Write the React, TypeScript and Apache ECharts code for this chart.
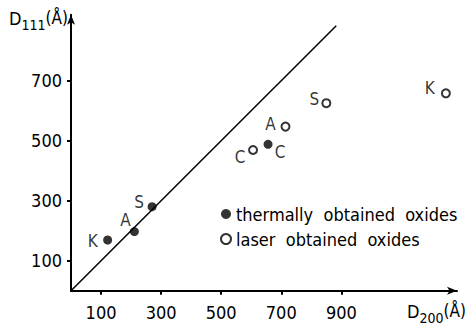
import React, { useEffect, useRef } from "react";
import * as echarts from "echarts";

const xTicks = [100, 300, 500, 700, 900];
const yTicks = [100, 300, 500, 700];
const thermalNames = ["K", "A", "S", "C"];
const thermalX = [122, 211, 270, 656];
const thermalY = [169, 197, 280, 488];
const laserNames = ["C", "A", "S", "K"];
const laserX = [606, 714, 850, 1248];
const laserY = [469, 547, 625, 658];
const diagonalX = [0, 883];
const diagonalY = [0, 883];
const legendNames = ["thermally  obtained  oxides", "laser  obtained  oxides"];

// label placement (styling, kept apart from data)
const thermalOffsets = [[-15, 1], [-9, -12], [-13, -5], [12, 8]];
const laserOffsets = [[-13, 7], [-15, -3], [-12, -4], [-16, -5]];

const FONT = '"DejaVu Sans Condensed", "DejaVu Sans", sans-serif';

export default function App() {
  const ref = useRef<HTMLDivElement>(null);
  useEffect(() => {
    if (!ref.current) return;
    const chart = echarts.init(ref.current, null, { renderer: "svg" });
    const labelStyle = (off: number[]) => ({
      show: true,
      position: "inside",
      offset: off,
      color: "#000",
      fontFamily: FONT,
      fontSize: 17,
      formatter: "{b}",
    });
    chart.setOption({
      animation: false,
      backgroundColor: "#fff",
      textStyle: { fontFamily: FONT, color: "#000" },
      grid: { left: 71, right: 10, top: 14.7, bottom: 44.3, containLabel: false },
      xAxis: {
        type: "value",
        min: 0,
        max: 1285,
        splitLine: { show: false },
        axisLine: { show: true, lineStyle: { color: "#000", width: 2 }, symbol: ["none", "arrow"], symbolSize: [6, 10] },
        axisTick: { show: true, customValues: xTicks, length: 4, lineStyle: { color: "#000", width: 2 } },
        axisLabel: { customValues: xTicks, color: "#000", fontFamily: FONT, fontSize: 18, margin: 13 },
      },
      yAxis: {
        type: "value",
        min: 0,
        max: 920,
        splitLine: { show: false },
        axisLine: { show: true, lineStyle: { color: "#000", width: 2 }, symbol: ["none", "arrow"], symbolSize: [6, 10] },
        axisTick: { show: true, customValues: yTicks, length: 4, lineStyle: { color: "#000", width: 2 } },
        axisLabel: { customValues: yTicks, color: "#000", fontFamily: FONT, fontSize: 18, margin: 9 },
      },
      legend: {
        orient: "vertical",
        left: 215,
        top: 200,
        itemWidth: 10,
        itemHeight: 10,
        itemGap: 7,
        textStyle: { color: "#000", fontFamily: FONT, fontSize: 18 },
        data: [
          { name: legendNames[0], icon: "circle", itemStyle: { color: "#000" } },
          { name: legendNames[1], icon: "emptyCircle", itemStyle: { color: "#000", borderColor: "#000", borderWidth: 1.5 } },
        ],
      },
      graphic: [
        {
          type: "text",
          left: 9,
          top: 9,
          style: {
            text: "{d|D}{s|111}{u|(Å)}",
            rich: {
              d: { fontFamily: FONT, fontSize: 18, fill: "#000" },
              s: { fontFamily: FONT, fontSize: 14, fill: "#000", padding: [14, 0, 0, 0] },
              u: { fontFamily: FONT, fontSize: 17, fill: "#000" },
            },
          },
        },
        {
          type: "text",
          left: 407,
          top: 302,
          style: {
            text: "{d|D}{s|200}{u|(Å)}",
            rich: {
              d: { fontFamily: FONT, fontSize: 18, fill: "#000" },
              s: { fontFamily: FONT, fontSize: 14, fill: "#000", padding: [14, 0, 0, 0] },
              u: { fontFamily: FONT, fontSize: 17, fill: "#000" },
            },
          },
        },
      ],
      series: [
        {
          type: "line",
          name: "diagonal",
          data: diagonalX.map((x, i) => [x, diagonalY[i]]),
          showSymbol: false,
          symbol: "none",
          lineStyle: { color: "#000", width: 1.5 },
          silent: true,
        },
        {
          type: "scatter",
          name: legendNames[0],
          symbol: "circle",
          symbolSize: 9,
          itemStyle: { color: "#000" },
          data: thermalX.map((x, i) => ({
            name: thermalNames[i],
            value: [x, thermalY[i]],
            label: labelStyle(thermalOffsets[i]),
          })),
        },
        {
          type: "scatter",
          name: legendNames[1],
          symbol: "emptyCircle",
          symbolSize: 8,
          itemStyle: { color: "#000", borderColor: "#000", borderWidth: 1.5 },
          data: laserX.map((x, i) => ({
            name: laserNames[i],
            value: [x, laserY[i]],
            label: labelStyle(laserOffsets[i]),
          })),
        },
      ],
    });
    return () => chart.dispose();
  }, []);
  return <div ref={ref} style={{ width: 467, height: 335, position: "absolute", left: 0, top: 0 }} />;
}
